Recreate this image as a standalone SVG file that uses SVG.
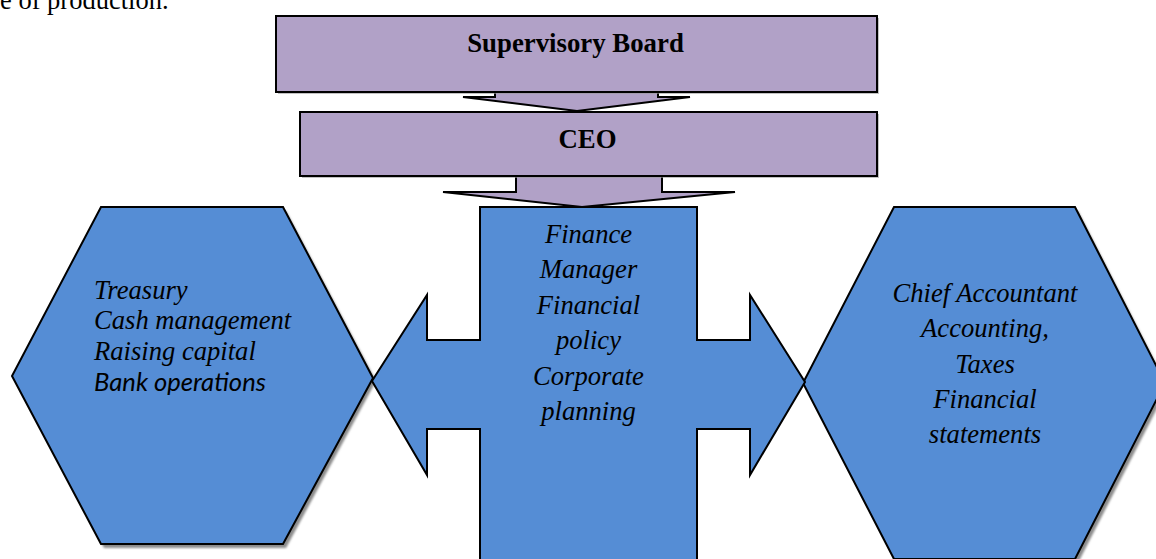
<svg xmlns="http://www.w3.org/2000/svg" width="1156" height="559" viewBox="0 0 1156 559">
  <defs>
    <filter id="sh" x="-10%" y="-10%" width="120%" height="120%">
      <feGaussianBlur stdDeviation="1"/>
    </filter>
    <style>
      .purple { fill: #B1A1C7; stroke: #000; stroke-width: 2; }
      .blue { fill: #558DD5; stroke: #000; stroke-width: 2; stroke-linejoin: miter; }
      .shadow { fill: #8c8c8c; filter: url(#sh); }
      .bold { font-family: "Liberation Serif", serif; font-weight: bold; font-size: 26.8px; fill: #000; text-anchor: middle; }
      .ital { font-family: "Liberation Serif", serif; font-style: italic; font-size: 26.6px; fill: #000; }
      .mid { text-anchor: middle; }
      .sans { font-family: Lato, "Open Sans", sans-serif; font-style: italic; font-size: 25.6px; fill: #000; }
      .body { font-family: "Liberation Serif", serif; font-size: 26.5px; fill: #000; }
    </style>
  </defs>
  <rect x="0" y="0" width="1156" height="559" fill="#fff"/>
  <text class="body" x="0" y="9">e of production.</text>

  <g id="connectors">
    <polygon class="purple" points="495,90 658,90 658,97 690,97 577,111 463,97 495,97"/>
    <polygon class="purple" points="516,174 662,174 662,192 735,192 582,207 443,192 516,192"/>
  </g>

  <g id="supervisory-board">
    <rect x="278" y="18" width="601" height="76" fill="#999" opacity="0.6"/>
    <rect class="purple" x="276" y="16" width="601" height="76"/>
    <text class="bold" x="575.5" y="52">Supervisory Board</text>
  </g>

  <g id="ceo">
    <rect x="302" y="114" width="577" height="64" fill="#999" opacity="0.6"/>
    <rect class="purple" x="300" y="112" width="577" height="64"/>
    <text class="bold" x="587.5" y="148">CEO</text>
  </g>

  <g id="treasury">
    <polygon class="shadow" points="104,211 286,211 376,381 286,548 104,548 15,380"/>
    <polygon class="blue" points="101,207 283,207 373,378 283,544 101,544 12,376"/>
    <text class="ital" x="94" y="299">Treasury</text>
    <text class="ital" x="94" y="329">Cash management</text>
    <text class="ital" x="94" y="360">Raising capital</text>
    <text class="sans" x="94" y="391">Bank operations</text>
  </g>

  <g id="chief-accountant">
    <polygon class="shadow" points="897,211 1078,211 1168,387 1078,563 897,563 806,387"/>
    <polygon class="blue" points="894,207 1075,207 1165,383 1075,559 894,559 803,383"/>
    <text class="ital mid" x="985" y="302">Chief Accountant</text>
    <text class="ital mid" x="985" y="337">Accounting,</text>
    <text class="ital mid" x="985" y="373">Taxes</text>
    <text class="ital mid" x="985" y="408">Financial</text>
    <text class="ital mid" x="985" y="443">statements</text>
  </g>

  <g id="finance-manager">
    <polygon class="blue" points="480,207 697,207 697,340 750,340 750,295 805,382 750,475 750,429 697,429 697,565 480,565 480,429 427,429 427,475 372,381 427,295 427,340 480,340"/>
    <text class="ital mid" x="588.5" y="243">Finance</text>
    <text class="ital mid" x="588.5" y="278">Manager</text>
    <text class="ital mid" x="588.5" y="314">Financial</text>
    <text class="ital mid" x="588.5" y="349">policy</text>
    <text class="ital mid" x="588.5" y="385">Corporate</text>
    <text class="ital mid" x="588.5" y="420">planning</text>
  </g>
</svg>
